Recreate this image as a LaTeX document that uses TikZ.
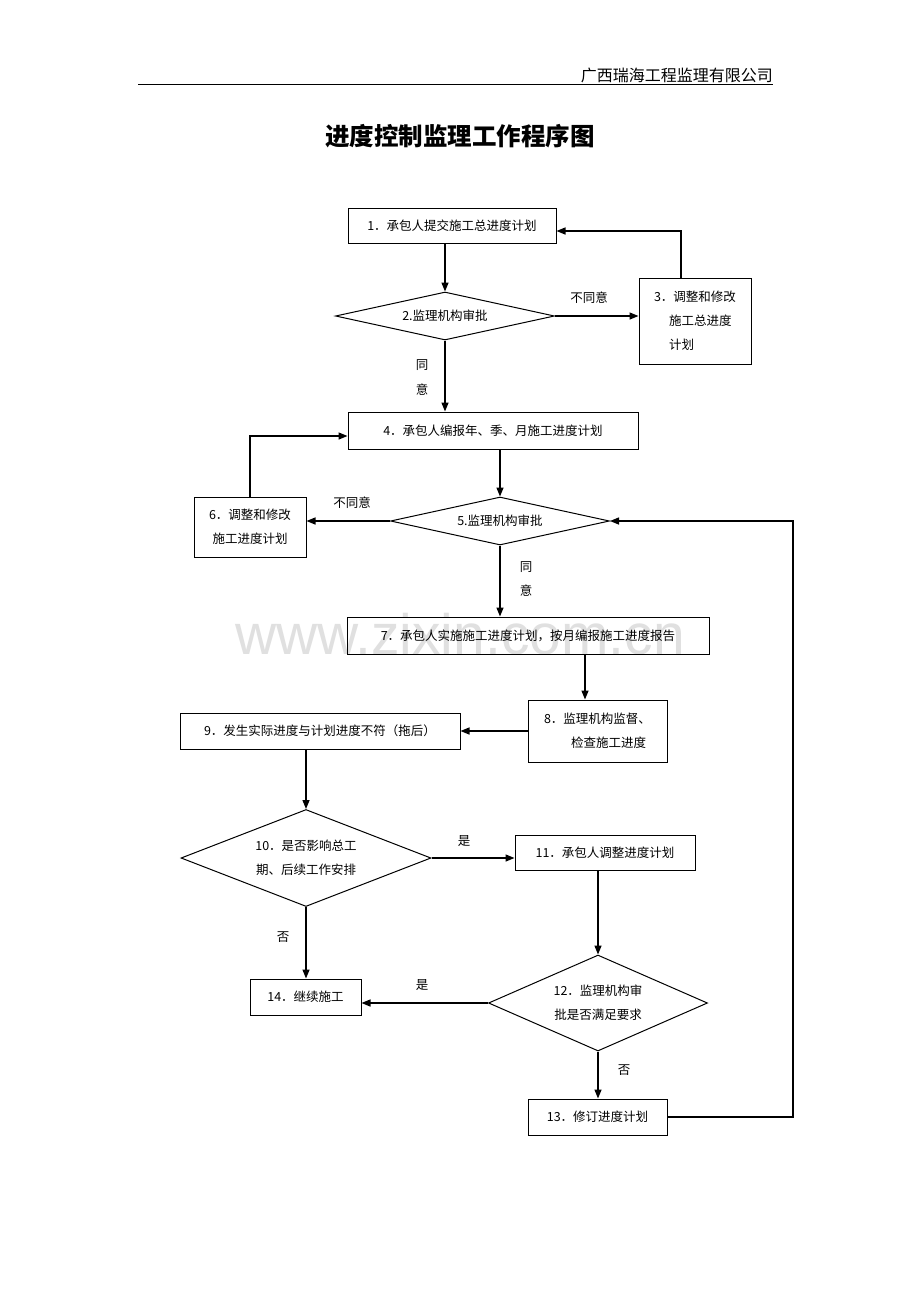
\documentclass[tikz,border=0pt]{standalone}
\usepackage{fontspec}
\setmainfont{Noto Sans CJK SC}
\newfontfamily\wmfont{Liberation Sans}
\usetikzlibrary{arrows.meta,shapes.geometric}
\begin{document}
\begin{tikzpicture}[x=1pt,y=-1pt,
  font=\fontsize{12.5}{24}\selectfont,
  box/.style={draw,line width=1pt,inner sep=0pt,align=center},
  boxl/.style={box,align=left},
  dia/.style={draw,diamond,line width=1pt,inner sep=0pt,align=center},
  arr/.style={line width=1.4pt,-{Triangle[length=9pt,width=7pt]}},
  lbl/.style={inner sep=0pt}]
\useasboundingbox (0,0) rectangle (920,1302);
\fill[white] (0,0) rectangle (920,1302);
% watermark
\node[lbl,text=black!12,font=\wmfont\fontsize{57}{57}\selectfont] (wm) at (460,634) {www.zixin.com.cn};
% header
\coordinate (hl) at (138,84);
\coordinate (hr) at (773,84);
\draw[line width=0.8pt] (hl) -- (hr);
\node[lbl,anchor=east,font=\fontsize{16}{16}\selectfont] (hdr) at (773,75) {广西瑞海工程监理有限公司};
\node[lbl,font=\fontsize{24.5}{24.5}\selectfont\bfseries] (title) at (460,136) {进度控制监理工作程序图};
% nodes
\node[box,minimum width=208,minimum height=35] (b1) at (452,225.5) {1．承包人提交施工总进度计划};
\node[dia,shape aspect=4.56,minimum width=219,minimum height=48] (d2) at (445,316) {2.监理机构审批};
\node[boxl,minimum width=112,minimum height=86] (b3) at (695,321) {3．调整和修改\\\hspace*{15pt}施工总进度\\\hspace*{15pt}计划};
\node[box,minimum width=290,minimum height=37] (b4) at (493,430.5) {4．承包人编报年、季、月施工进度计划};
\node[dia,shape aspect=4.56,minimum width=219,minimum height=48] (d5) at (500,521) {5.监理机构审批};
\node[box,minimum width=112,minimum height=60] (b6) at (250,527) {6．调整和修改\\施工进度计划};
\node[box,minimum width=362,minimum height=37] (b7) at (528,635.5) {7．承包人实施施工进度计划，按月编报施工进度报告};
\node[boxl,minimum width=139,minimum height=62] (b8) at (597.5,731) {8．监理机构监督、\\\hspace*{27pt}检查施工进度};
\node[box,minimum width=280,minimum height=36] (b9) at (320,731) {9．发生实际进度与计划进度不符（拖后）};
\node[dia,shape aspect=2.58,minimum width=250,minimum height=97] (d10) at (306,858) {10．是否影响总工\\期、后续工作安排};
\node[box,minimum width=180,minimum height=35] (b11) at (605,852.5) {11．承包人调整进度计划};
\node[dia,shape aspect=2.28,minimum width=219,minimum height=96] (d12) at (598,1003) {12．监理机构审\\批是否满足要求};
\node[box,minimum width=111,minimum height=36] (b14) at (305.5,997) {14．继续施工};
\node[box,minimum width=139,minimum height=36] (b13) at (597.5,1117) {13．修订进度计划};
% labels
\node[lbl] (l23) at (589,298) {不同意};
\node[lbl] (l24a) at (422,365) {同};
\node[lbl] (l24b) at (422,390) {意};
\node[lbl] (l56) at (352,503) {不同意};
\node[lbl] (l57a) at (526,567) {同};
\node[lbl] (l57b) at (526,591) {意};
\node[lbl] (l1011) at (464,841) {是};
\node[lbl] (l1014) at (283,937) {否};
\node[lbl] (l1214) at (422,985) {是};
\node[lbl] (l1213) at (624,1070) {否};
% connectors
\coordinate (rr) at (793,0);
\draw[arr] (b1.south -| d2.north) -- (d2.north);
\draw[arr] (d2.east) -- (d2.east -| b3.west);
\draw[arr] ([xshift=-14pt]b3.north) |- ([yshift=-5.5pt]b1.east);
\draw[arr] (d2.south) -- (d2.south |- b4.north);
\draw[arr] (b4.south -| d5.north) -- (d5.north);
\draw[arr] (d5.west) -- (d5.west -| b6.east);
\draw[arr] (b6.north) |- ([yshift=-5.5pt]b4.west);
\draw[arr] (d5.south) -- (d5.south |- b7.north);
\draw[arr] (b13.east) -- (b13.east -| rr) |- (d5.east);
\draw[arr] ([xshift=-12.5pt]b8.north |- b7.south) -- ([xshift=-12.5pt]b8.north);
\draw[arr] (b9.east -| b8.west) -- (b9.east);
\draw[arr] (d10.north |- b9.south) -- (d10.north);
\draw[arr] (d10.east) -- (d10.east -| b11.west);
\draw[arr] (d12.north |- b11.south) -- (d12.north);
\draw[arr] (d12.west) -- (d12.west -| b14.east);
\draw[arr] (d10.south) -- (d10.south |- b14.north);
\draw[arr] (d12.south) -- (d12.south |- b13.north);
\end{tikzpicture}
\end{document}
